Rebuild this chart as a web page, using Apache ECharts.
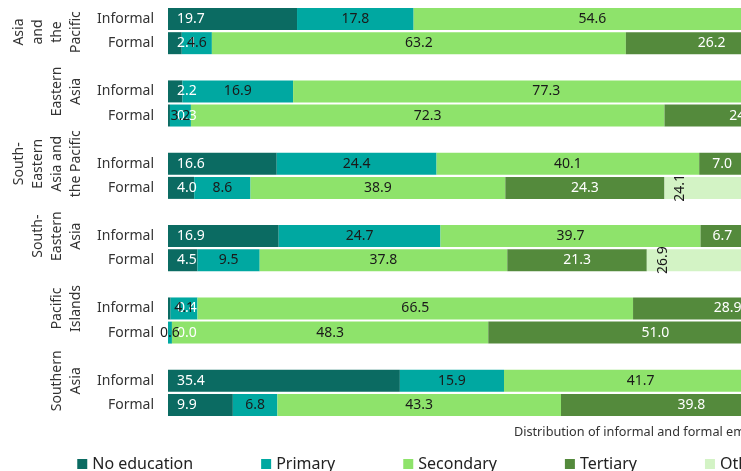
<!DOCTYPE html>
<html>
<head>
<meta charset="utf-8">
<script src="https://cdn.jsdelivr.net/npm/echarts@6/dist/echarts.min.js"></script>
<style>
  html, body { margin: 0; padding: 0; overflow: hidden; background: #fff; }
  #main { width: 841px; height: 471px; }
</style>
</head>
<body>
<div id="main"></div>
<script>
// regions (group labels, wrapped the way the original shows them)
var groups = ['Asia\nand\nthe\nPacific', 'Eastern\nAsia', 'South-\nEastern\nAsia and\nthe Pacific',
              'South-\nEastern\nAsia', 'Pacific\nIslands', 'Southern\nAsia'];
var rowTypes = ['Informal', 'Formal'];
var levels = ['No education', 'Primary', 'Secondary', 'Tertiary', 'Other'];

// values per row: [grp0 Informal, grp0 Formal, grp1 Informal, ...]
var noEducation = [19.7, 2.1, 2.2, 0.3, 16.6, 4.0, 16.9, 4.5, 0.4, 0.0, 35.4, 9.9];
var primary     = [17.8, 4.6, 16.9, 3.2, 24.4, 8.6, 24.7, 9.5, 4.1, 0.6, 15.9, 6.8];
var secondary   = [54.6, 63.2, 77.3, 72.3, 40.1, 38.9, 39.7, 37.8, 66.5, 48.3, 41.7, 43.3];
var tertiary    = [5.9, 26.2, 3.4, 24.0, 7.0, 24.3, 6.7, 21.3, 28.9, 51.0, 4.6, 39.8];
var other       = [2.0, 3.9, 0.2, 0.2, 11.9, 24.1, 12.0, 26.9, 0.1, 0.1, 2.4, 0.2];

var colors = ['#0b6b62', '#00a8a1', '#8ee36b', '#548a3c', '#d3f3c5'];

// category rows with an empty spacer row between regions
var yCats = [], groupCats = [];
groups.forEach(function (g, i) {
    if (i > 0) { yCats.push(''); groupCats.push(''); }
    rowTypes.forEach(function (r, j) {
        yCats.push(r);
        if (j === 0) {
            // first region label sits a bit lower in the original
            groupCats.push(i === 0 ? { value: g, textStyle: { padding: [0, 26, 0, 0] } } : g);
        } else {
            groupCats.push('');
        }
    });
});

function padRows(arr) {
    var out = [];
    arr.forEach(function (v, i) {
        if (i > 0 && i % 2 === 0) out.push('-');
        out.push(v);
    });
    return out;
}

function fmt(p) { return typeof p.value === 'number' ? p.value.toFixed(1) : ''; }

var labelCfg = [
    { position: 'insideLeft', distance: 9, color: '#fff' },
    { position: 'inside', color: '#1a1a1a' },
    { position: 'inside', color: '#1a1a1a' },
    { position: 'inside', color: '#fff' },
    { position: 'insideLeft', distance: 16, rotate: 90, align: 'center', verticalAlign: 'middle', color: '#1a1a1a' }
];

var seriesData = [noEducation, primary, secondary, tertiary, other];

var myChart = echarts.init(document.getElementById('main'));
myChart.setOption({
    animation: false,
    textStyle: { fontFamily: 'Noto Sans' },
    color: colors,
    legend: {
        left: 'center',
        top: 451,
        icon: 'rect',
        itemWidth: 10,
        itemHeight: 10,
        itemGap: 68,
        textStyle: { fontSize: 16, color: '#222' },
        data: levels
    },
    grid: { left: 168, right: 18, top: 7, height: 410, outerBoundsMode: 'none' },
    xAxis: {
        type: 'value',
        min: 0,
        max: 100,
        name: 'Distribution of informal and formal employment (%)',
        nameLocation: 'end',
        nameGap: 0,
        nameTextStyle: { fontSize: 12.7, color: '#333', align: 'right', verticalAlign: 'top', padding: [9, 0, 0, 0] },
        axisLabel: { show: false },
        axisTick: { show: false },
        axisLine: { show: false },
        splitLine: { show: false }
    },
    yAxis: [
        {
            type: 'category',
            inverse: true,
            data: yCats,
            axisLine: { show: false },
            axisTick: { show: false },
            axisLabel: { interval: 0, margin: 14, fontSize: 14, color: '#333' }
        },
        {
            type: 'category',
            inverse: true,
            position: 'left',
            data: groupCats,
            axisLine: { show: false },
            axisTick: { show: false },
            axisLabel: {
                interval: 0, rotate: 90, align: 'center', verticalAlign: 'bottom',
                margin: 82, fontSize: 14, lineHeight: 19, color: '#333'
            }
        }
    ],
    series: levels.map(function (name, k) {
        var lab = Object.assign({ show: true, fontSize: 14, formatter: fmt }, labelCfg[k]);
        return {
            name: name,
            type: 'bar',
            stack: 'total',
            yAxisIndex: 0,
            barWidth: 22,
            data: padRows(seriesData[k]),
            itemStyle: { color: colors[k] },
            label: lab
        };
    })
});
</script>
</body>
</html>
